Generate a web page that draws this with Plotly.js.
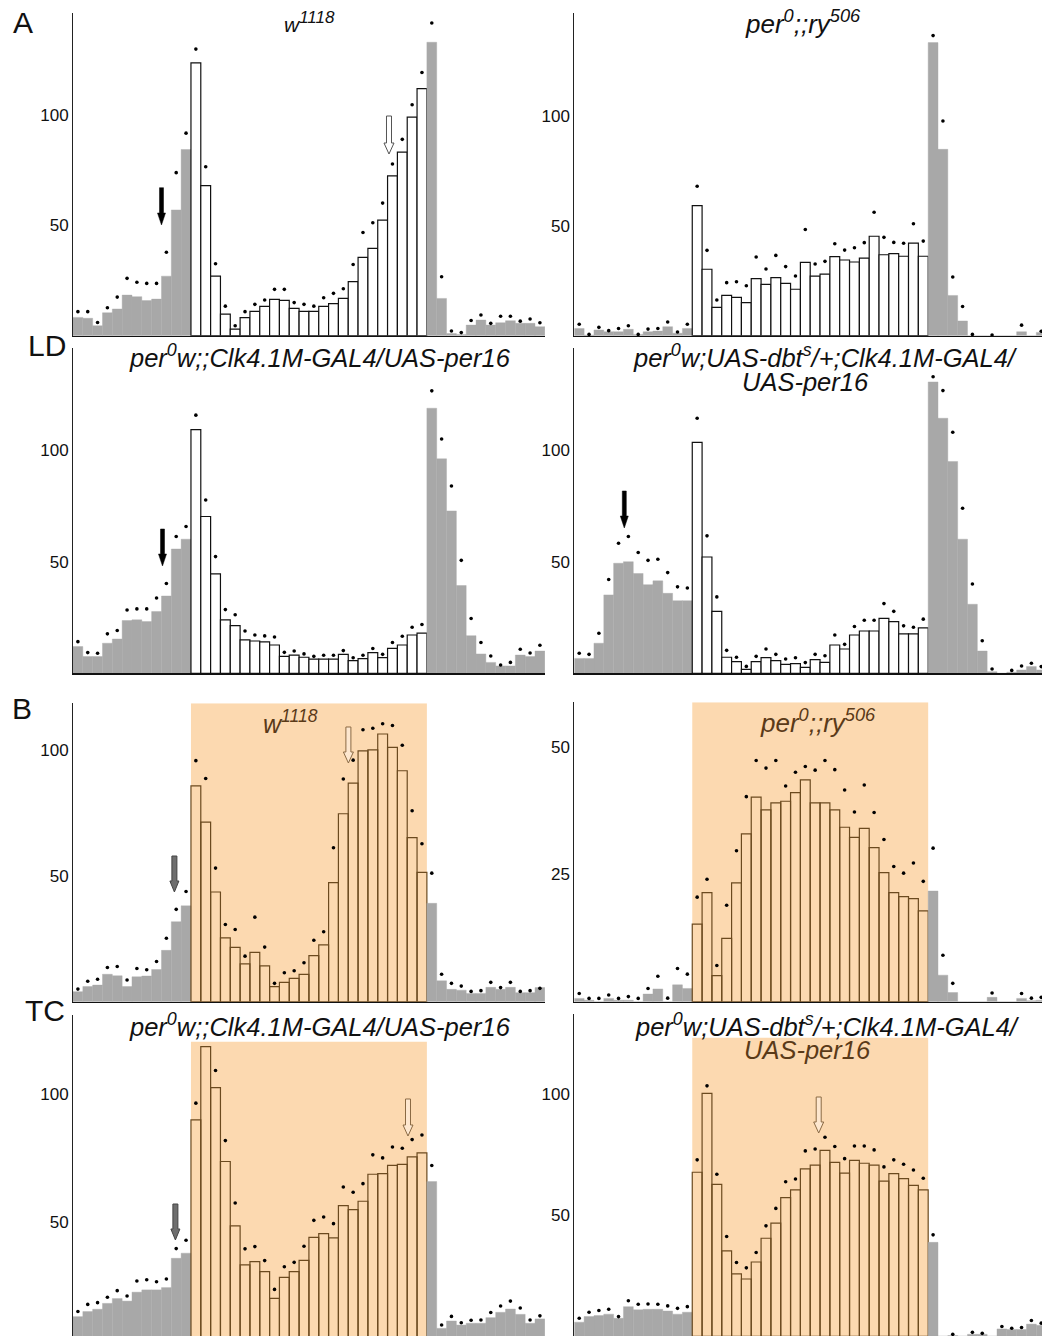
<!DOCTYPE html>
<html><head><meta charset="utf-8">
<script src="https://cdn.plot.ly/plotly-3.0.1.min.js"></script>
<style>html,body{margin:0;padding:0;background:#fff}#chart{width:1042px;height:1336px}</style>
</head><body><div id="chart"></div>
<script>
// half-hour bins (48 per day); bins 13-36 = lights-on / warm phase
const bins = [1,2,3,4,5,6,7,8,9,10,11,12,13,14,15,16,17,18,19,20,21,22,23,24,25,26,27,28,29,30,31,32,33,34,35,36,37,38,39,40,41,42,43,44,45,46,47,48];
const phaseStart = 13, phaseEnd = 36;

// ---- A: LD ----
const LD_w1118 = [8.3,7.9,4.5,10.4,12.1,18.4,17.7,15.9,16.6,27,57,84.4,
 123.7,68,27,9.8,3.0,8.2,11,13.3,16.5,16,12.4,11,
 11,13.3,14.5,16.9,24.5,35.5,39.6,52.4,72.4,83.2,99.1,112,
 133,16.9,1,0.6,4.8,7.1,4.8,5.9,6.8,5.6,5.6,4.1];
const LD_w1118_sem = [10.9,10.9,6.0,12.7,17.5,26,24.2,23.7,23.7,37.8,73.9,91.8,
 129.9,76.6,32.6,13.4,4.5,10.9,14.2,16.2,21,21,15,14.2,
 13.4,17.2,19.2,21.3,32.3,46.8,51.2,60.1,77.8,89,104.7,119.3,
 141.7,26.7,2.1,1.4,6.9,9.4,5.6,8.8,8.8,6.6,7.6,5.9];

const LD_per0 = [3.3,0.3,2.6,1.8,1.8,2.9,0.6,1.8,2.1,4.1,1.1,3.3,
 59.1,30.2,12.9,18.3,17.4,15,25.9,23.3,26.4,23.8,21.1,33.3,
 27.1,28,35.9,34.4,33.5,35.3,45.2,36.8,37.3,36.1,42.1,36.1,
 133.2,84.7,18.3,6.7,0,0,0,0,0,1.8,0,1.5];
const LD_per0_sem = [5.2,0.6,3.8,2.3,3.3,4.5,0.6,3,3.3,6.2,1.7,5.2,
 67.9,38.8,16.2,24.1,24.5,22.7,35.8,30.3,36.5,31.4,27.1,48.3,
 32.6,33.8,41.8,38.9,40,42.3,56.1,44.7,42.4,42,50.9,43,
 136.4,97.6,26.7,13.3,0.6,null,0.3,null,null,4.8,null,2];

const LD_clkPer16 = [12,7.5,7.5,13.5,15.4,23.7,24,23.2,27.7,34.7,55.8,60.2,
 109.4,70.4,44.6,24,21.4,15,14.5,14.1,12.7,7.6,8.2,7.2,
 6.4,6.4,6.4,8.5,5.7,6.6,9.3,7,11.2,12.7,17.2,18,
 119,96.3,72.9,39.4,16.9,8.7,4.9,3.3,3.3,8.2,7.5,10];
const LD_clkPer16_sem = [14.2,9.3,9,17.7,19.2,28.4,28.9,28.9,33.8,40.3,61.4,65.9,
 115.9,77.8,52.4,28.6,26.3,19,17.2,16.8,16.3,9.4,10,8.7,
 7.6,8.1,8.1,10.2,7,8.1,11.1,8.5,13.8,16.6,20.7,21.9,
 126.8,105.2,84.1,50.7,24.6,13.8,7.8,3.7,4.9,10.8,9.1,12.6];

const LD_dbtPer16 = [6.7,6.7,13.5,35.2,49.4,50.1,44.8,39.8,41.5,35.9,32.6,32.6,
 103.7,52.2,27.8,7.2,5.2,1.8,5.2,7,5.7,4,4.3,2.7,
 6.1,4.9,12.7,10.9,17.2,19,19,24.7,23.2,17.7,17.7,20.4,
 130.8,114.5,95.1,60.2,31,10,0.7,0,0.5,1.5,3,1.5];
const LD_dbtPer16_sem = [9,8.5,18,42.1,58.4,61.4,54.2,50.7,51.2,45.2,38.8,38.3,
 114.5,61.7,34.3,10.3,7.2,3.1,7.6,10.9,8.5,6.4,7,4.8,
 8.5,7.9,17.2,13,21,23.8,23.8,31.3,27.8,21.3,20.7,24.3,
 133.1,126.9,108.2,74.1,40.1,14.6,1.9,null,1.3,3.3,4.5,3];

// ---- B: TC ----
const TC_w1118 = [4,6,6.6,10.9,10.3,6,9.9,10.2,12.8,20.4,31.8,38.1,
 85.8,71.4,43.6,25.4,21.6,15,19.6,14.2,6,7.7,9.3,10.9,
 18.3,22.6,47.3,74.7,86.9,99.7,100.1,106.4,101.1,91.8,65.2,51.4,
 39.1,8.3,4.9,4.6,3.3,3.3,5.7,4.9,5.7,3.6,3.6,5.6];
const TC_w1118_sem = [5,8.1,8.9,13.6,14,8.6,13.2,12.7,16,25.2,36.7,43.8,
 95.8,88.7,53.1,30.7,28.7,18.1,33.6,21.7,7.3,11.5,12.3,15.5,
 24.4,27.8,61.2,88.5,96,108.1,108.7,110.5,109.8,101.9,75.9,62.8,
 51.1,10.9,7.3,6.2,4.1,4.4,7.7,5.6,7.7,4.1,4.4,5.3];

const TC_per0 = [0.65,0.3,0,0.65,0.3,0.3,0,1.5,2.5,0,3.3,2.6,
 15.2,21.4,5.1,12.4,23.3,32.9,40.1,37.6,39,39.3,41,43.5,
 39,39,37.6,34.2,32.2,34,30.2,25.3,21.4,20.6,20.2,17.8,
 21.7,5.2,1.8,0,0,0,0.85,0,0,0.65,0.2,0.3];
const TC_per0_sem = [1.6,0.65,0.65,1.3,0.65,1,0.65,2.6,5,0.7,6.5,5.4,
 20.5,24,7.1,18.9,29.6,40.2,47.3,45.8,47.3,42.3,45,46.1,
 45.4,47.3,45.5,41.5,37.2,42.5,37.1,31.8,26.5,25.2,27.2,23.6,
 30.1,9.1,3.6,null,null,null,1.7,null,null,1.6,0.7,0.85];

const TC_clkPer16 = [12.7,14.7,15.6,17.9,19.8,18.8,22.3,23.2,23.2,24.1,35.6,37.6,
 89.9,118.7,102.6,73.6,48.3,33,34.3,30.4,19.9,28.1,30.4,34.8,
 43.8,45.3,43.6,56.3,54.7,58,68.6,68.8,72.1,72.5,75.4,77,
 65.7,8.1,11,9.4,10.1,10.1,12.3,14.4,15.7,13.6,10.1,11.8];
const TC_clkPer16_sem = [14.7,17.5,18.2,20.3,22.9,20.8,26.7,27.2,26.4,27.5,39.4,42.7,
 96.5,null,109.3,81.8,57.3,39.3,40.2,34.7,23.4,32.3,34,40.3,
 50.5,51.8,49.2,63.6,61.5,64.9,76.2,75,79.3,78.8,82.2,84,
 72,9.4,12.8,10.3,11.3,11.4,14.3,16.9,18.8,16.1,11.4,13];

const TC_dbtPer16 = [5.8,8.1,8.5,9.1,7.4,12.2,10.9,11.1,11.1,10.4,9.1,9.9,
 67.6,100.1,62.6,35.2,25.7,23.6,30.6,40.4,46.6,57.1,60.3,69,
 70.5,76.6,71.7,67.2,72.5,71.3,70.5,63.9,67,65,62.2,60.3,
 38.7,0,0.3,0,0.8,0.8,0,3.0,2.8,2.8,5.0,4.5];
const TC_dbtPer16_sem = [7.4,9.9,10.6,11.1,8.1,14.6,13.2,13.3,13.2,12.5,11.5,12.2,
 72.7,103.2,66.8,41.1,30.4,28.2,34.5,45.5,52.7,63.7,64.8,76.4,
 77.2,82,78.2,73.2,78.4,78.4,76.8,69.8,72.7,70.9,68.5,65.1,
 41.8,null,0.8,null,1.6,1.2,null,4,3.3,3.6,6.5,5.4];

// ---------- layout helpers ----------
const W = 1042, H = 1336;
const fx = x => x / W;
const fy = y => 1 - y / H;
const BIN = 9.83;
const GREY = '#a8a8a8', ORANGE = '#fcd9b0', BROWN = '#6b4a1f', TBROWN = '#5a3a18';
const FONT = 'Liberation Sans, Arial, sans-serif';

const panels = [
  {mean: LD_w1118, dot: LD_w1118_sem, tc:false, x0:73, x1:545, top:12.7, bot:335.7, yr:[0,146.4], ticks:[50,100]},
  {mean: LD_per0, dot: LD_per0_sem, tc:false, x0:574.3, x1:1042, top:12.7, bot:335.7, yr:[0,146.8], ticks:[50,100]},
  {mean: LD_clkPer16, dot: LD_clkPer16_sem, tc:false, x0:73, x1:545, top:348.3, bot:673.3, yr:[0,145.9], ticks:[50,100]},
  {mean: LD_dbtPer16, dot: LD_dbtPer16_sem, tc:false, x0:574.3, x1:1042, top:348.3, bot:673.3, yr:[0,145.9], ticks:[50,100]},
  {mean: TC_w1118, dot: TC_w1118_sem, tc:true, x0:73, x1:545, top:703.3, bot:1001.7, yr:[0,118.6], ticks:[50,100], shadeTop:118.6, xline:true},
  {mean: TC_per0, dot: TC_per0_sem, tc:true, x0:574.3, x1:1042, top:702.3, bot:1001.7, yr:[0,58.7], ticks:[25,50], shadeTop:58.7, xline:true},
  {mean: TC_clkPer16, dot: TC_clkPer16_sem, tc:true, x0:73, x1:545, top:1015, bot:1336, yr:[5.1,131.1], ticks:[50,100], shadeTop:120.6, xline:false},
  {mean: TC_dbtPer16, dot: TC_dbtPer16_sem, tc:true, x0:574.3, x1:1042, top:1014.3, bot:1336, yr:[0.1,132.7], ticks:[50,100], shadeTop:123, xline:false}
];

const data = [], shapes = [], annotations = [];
const layout = {
  width: W, height: H, margin:{l:0,r:0,t:0,b:0},
  paper_bgcolor:'#fff', plot_bgcolor:'rgba(0,0,0,0)',
  showlegend:false, bargap:0, barmode:'overlay',
  font:{family:FONT, color:'#111'}
};

panels.forEach((p, i) => {
  const n = i + 1;
  const xa = 'xaxis' + (n === 1 ? '' : n), ya = 'yaxis' + (n === 1 ? '' : n);
  const xr = 'x' + (n === 1 ? '' : n), yr = 'y' + (n === 1 ? '' : n);
  const inPhase = b => b >= phaseStart && b <= phaseEnd;
  const fill = bins.map(b => inPhase(b) ? (p.tc ? 'rgba(0,0,0,0)' : '#ffffff') : GREY);
  const lc = bins.map(b => inPhase(b) ? (p.tc ? BROWN : '#111') : GREY);
  const lw = bins.map(b => inPhase(b) ? 1.2 : 0.4);
  data.push({type:'bar', x:bins, y:p.mean, xaxis:xr, yaxis:yr, width:1,
    marker:{color:fill, line:{color:lc, width:lw}}, hoverinfo:'skip'});
  data.push({type:'scatter', mode:'markers', x:bins, y:p.dot, xaxis:xr, yaxis:yr,
    marker:{color:'#000', size:3.6}, cliponaxis:false, hoverinfo:'skip'});
  layout[xa] = {domain:[fx(p.x0), fx(p.x1)], range:[0.5, 0.5 + (p.x1 - p.x0) / BIN],
    showticklabels:false, ticks:'', showgrid:false, zeroline:false,
    showline: p.xline !== false, linecolor:'#111', linewidth:1.3, anchor:yr, fixedrange:true};
  layout[ya] = {domain:[fy(p.bot), fy(p.top)], range:p.yr, tickvals:p.ticks, ticktext:p.ticks.map(String),
    ticks:'', showgrid:false, zeroline:false, showline:true, linecolor:'#222', linewidth:1,
    tickfont:{size:17, color:'#111', family:FONT}, anchor:xr, fixedrange:true};
  if (p.tc) {
    shapes.push({type:'rect', xref:xr, yref:yr, x0:phaseStart - 0.5, x1:phaseEnd + 0.5,
      y0:p.yr[0], y1:p.shadeTop, fillcolor:ORANGE, line:{width:0}, layer:'below'});
  }
});

// arrows (pixel geometry -> paper coordinates)
function arrow(cx, yTop, yBot, sw, hw, hh, fill, stroke, lwid) {
  const pts = [[cx - sw/2, yTop],[cx + sw/2, yTop],[cx + sw/2, yBot - hh],[cx + hw/2, yBot - hh],
               [cx, yBot],[cx - hw/2, yBot - hh],[cx - sw/2, yBot - hh]];
  const path = 'M ' + pts.map(q => fx(q[0]).toFixed(5) + ',' + fy(q[1]).toFixed(5)).join(' L ') + ' Z';
  shapes.push({type:'path', xref:'paper', yref:'paper', path, fillcolor:fill,
    line:{color:stroke, width:lwid}, layer:'above'});
}
arrow(161.5, 187.7, 225, 4, 8, 12, '#000', '#000', 0.5);
arrow(162.5, 529, 566, 4, 8, 12, '#000', '#000', 0.5);
arrow(624.3, 491, 528, 4, 8, 12, '#000', '#000', 0.5);
arrow(389, 116, 154, 5, 10, 11, '#fff', '#555', 1);
arrow(174.4, 856, 892, 5, 9, 11, '#6e6e6e', '#444', 1);
arrow(175.4, 1204, 1240, 5, 9, 11, '#6e6e6e', '#444', 1);
arrow(348.4, 727, 763, 5, 10, 11, '#fde7cf', '#8a6a44', 1);
arrow(408, 1099, 1136, 5, 10, 11, '#fde7cf', '#8a6a44', 1);
arrow(818.7, 1097, 1133, 5, 10, 11, '#fde7cf', '#8a6a44', 1);

function label(text, x, y, size, color) {
  annotations.push({text, x:fx(x), y:fy(y), xref:'paper', yref:'paper', showarrow:false,
    xanchor:'center', yanchor:'middle', font:{family:FONT, size, color: color || '#111'}});
}
label('A', 23, 22, 30);
label('LD', 47, 345, 30);
label('B', 22, 708, 30);
label('TC', 45, 1010, 30);

label('<i>w<sup><span style="font-size:17px">1118</span></sup></i>', 309, 22, 21);
label('<i>per<sup>0</sup>;;ry<sup>506</sup></i>', 803, 22, 26);
label('<i>per<sup>0</sup>w;;Clk4.1M-GAL4/UAS-per16</i>', 320, 356, 25.5);
label('<i>per<sup>0</sup>w;UAS-dbt<sup>s</sup>/+;Clk4.1M-GAL4/</i>', 825, 356, 25.5);
label('<i>UAS-per16</i>', 805, 382, 25.5);
label('<i>w<sup>1118</sup></i>', 290, 722, 25, TBROWN);
label('<i>per<sup>0</sup>;;ry<sup>506</sup></i>', 818, 721, 26, TBROWN);
label('<i>per<sup>0</sup>w;;Clk4.1M-GAL4/UAS-per16</i>', 320, 1025, 25.5);
label('<i>per<sup>0</sup>w;UAS-dbt<sup>s</sup>/+;Clk4.1M-GAL4/</i>', 827, 1025, 25.5);
label('<i>UAS-per16</i>', 807, 1050, 25.5, TBROWN);

layout.shapes = shapes;
layout.annotations = annotations;
Plotly.newPlot('chart', data, layout, {staticPlot:true, displayModeBar:false});
</script></body></html>
